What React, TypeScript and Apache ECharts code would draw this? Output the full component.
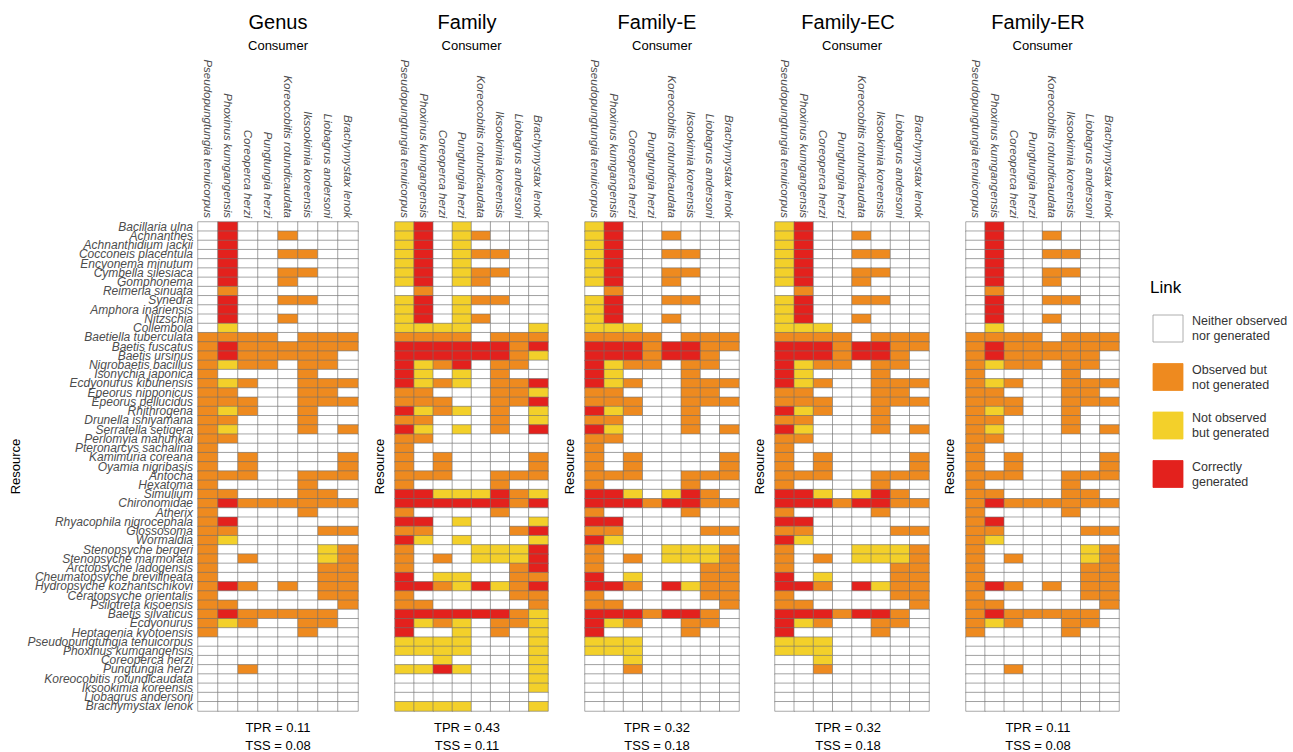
import React, { useEffect, useRef } from "react";
import * as echarts from "echarts";

const FONT = "'Liberation Sans', Arial, sans-serif";

const consumers = [
  "Pseudopungtungia tenuicorpus",
  "Phoxinus kumgangensis",
  "Coreoperca herzi",
  "Pungtungia herzi",
  "Koreocobitis rotundicaudata",
  "Iksookimia koreensis",
  "Liobagrus andersoni",
  "Brachymystax lenok",
];

const resources = [
  "Bacillaria ulna", "Achnanthes", "Achnanthidium jackii", "Cocconeis placentula",
  "Encyonema minutum", "Cymbella silesiaca", "Gomphonema", "Reimeria sinuata",
  "Synedra", "Amphora inariensis", "Nitzschia", "Collembola",
  "Baetiella tuberculata", "Baetis fuscatus", "Baetis ursinus", "Nigrobaetis bacillus",
  "Isonychia japonica", "Ecdyonurus kibunensis", "Epeorus nipponicus", "Epeorus pellucidus",
  "Rhithrogena", "Drunella ishiyamana", "Serratella setigera", "Perlomyia mahunkai",
  "Pteronarcys sachalina", "Kamimuria coreana", "Oyamia nigribasis", "Antocha",
  "Hexatoma", "Simulium", "Chironomidae", "Atherix",
  "Rhyacophila nigrocephala", "Glossosoma", "Wormaldia", "Stenopsyche bergeri",
  "Stenopsyche marmorata", "Arctopsyche ladogensis", "Cheumatopsyche brevilineata", "Hydropsyche kozhantschikovi",
  "Ceratopsyche orientalis", "Psilotreta kisoensis", "Baetis silvaticus", "Ecdyonurus",
  "Heptagenia kyotoensis", "Pseudopungtungia tenuicorpus", "Phoxinus kumgangensis", "Coreoperca herzi",
  "Pungtungia herzi", "Koreocobitis rotundicaudata", "Iksookimia koreensis", "Liobagrus andersoni",
  "Brachymystax lenok",
];

// Link codes per resource row, one letter per consumer:
// W = neither observed nor generated, O = observed but not generated,
// Y = not observed but generated, R = correctly generated
const genusLinks = [
  "WRWWWWWW", "WRWWOWWW", "WRWWWWWW", "WRWWOOWW", "WRWWWWWW", "WRWWOOWW", "WRWWOWWW", "WOWWWWWW",
  "WRWWOOWW", "WRWWWWWW", "WRWWOWWW", "WYWWWWWW", "OOOOWOOO", "OROOOOOO", "OROOOOOW", "OYOOWOOW",
  "OWWWWOWW", "OYOWWOOO", "OOWWWOOW", "OOOWWOOO", "OYOWWOWW", "OOWWWOWW", "OYWWWOWO", "OOWWWWWW",
  "OWWWWWWW", "OWOWWWWO", "OWOWWWWO", "OOOWWOOO", "OWWWWOWW", "OOWWWOOW", "OROOOOOO", "OWWWWOWW",
  "ORWWWWWW", "OOWWWWOO", "OYWWWWWW", "OWWWWWYO", "OWOWWWYO", "OWWWWWOO", "OWWWWWOO", "OROWOWOO",
  "OWWWWWOO", "OOWWWWWO", "OROOOOOW", "OYOWWOOW", "OWWWWOWW", "WWWWWWWW", "WWWWWWWW", "WWWWWWWW",
  "WWOWWWWW", "WWWWWWWW", "WWWWWWWW", "WWWWWWWW", "WWWWWWWW",
];

const familyLinks = [
  "YRWYWWWW", "YRWYOWWW", "YRWYWWWW", "YRWYOOWW", "YRWYWWWW", "YRWYOOWW", "YRWYOWWW", "WOWWWWWW",
  "YRWYOOWW", "YRWYWWWW", "YRWYOWWW", "YYYYWWWY", "OOOOWOOO", "RRRRRROR", "RRRRRROY", "RYORWOOW",
  "RYWYWOWW", "RYOYWOOR", "OOWWWOOY", "OOOWWOOR", "RYOYWOWY", "OOWWWOWY", "RYWYWOWR", "OOWWWWWW",
  "OWWWWWWW", "OWOWWWWO", "OWOWWWWO", "OOOWWOOO", "OWWWWOWW", "RRYYYROY", "RRRRRROR", "OWWWWOWW",
  "RRWYWWWY", "OOWWWWOR", "RYWYWWWY", "OWWWYYYR", "OWOWYYYR", "OWWWWWOR", "RWYYWWOO", "RROYRYOR",
  "OWWWWWOO", "OOWWWWWO", "RRRRRROY", "RYOYWOOY", "RWWYWOWY", "YYYYWWWY", "YYYYWWWY", "WWYWWWWY",
  "YYRYWWWY", "WWWWWWWY", "WWWWWWWY", "WWWWWWWW", "YYYYWWWY",
];

const familyELinks = [
  "YRWWWWWW", "YRWWOWWW", "YRWWWWWW", "YRWWOOWW", "YRWWWWWW", "YRWWOOWW", "YRWWOWWW", "WOWWWWWW",
  "YRWWOOWW", "YRWWWWWW", "YRWWOWWW", "YYYWWWWW", "OOOOWOOO", "RRRORROO", "RRRORROW", "RYOOWOOW",
  "RYWWWOWW", "RYOWWOOO", "OOWWWOOW", "OOOWWOOO", "RYOWWOWW", "OOWWWOWW", "RYWWWOWO", "OOWWWWWW",
  "OWWWWWWW", "OWOWWWWO", "OWOWWWWO", "OOOWWOOO", "OWWWWOWW", "RRYWYROW", "RRRORROO", "OWWWWOWW",
  "RRWWWWWW", "OOWWWWOO", "RYWWWWWW", "OWWWYYYO", "OWOWYYYO", "OWWWWWOO", "RWYWWWOO", "RROWRYOO",
  "OWWWWWOO", "OOWWWWWO", "RRRORROW", "RYOWWOOW", "RWWWWOWW", "YYYWWWWW", "YYYWWWWW", "WWYWWWWW",
  "WWOWWWWW", "WWWWWWWW", "WWWWWWWW", "WWWWWWWW", "WWWWWWWW",
];

const familyECLinks = [
  "YRWWWWWW", "YRWWOWWW", "YRWWWWWW", "YRWWOOWW", "YRWWWWWW", "YRWWOOWW", "YRWWOWWW", "WOWWWWWW",
  "YRWWOOWW", "YRWWWWWW", "YRWWOWWW", "YYYWWWWW", "OOOOWOOO", "RRRORROO", "RRRORROW", "RYOOWOOW",
  "RYWWWOWW", "RYOWWOOO", "OOWWWOOW", "OOOWWOOO", "RYOWWOWW", "OOWWWOWW", "RYWWWOWO", "OOWWWWWW",
  "OWWWWWWW", "OWOWWWWO", "OWOWWWWO", "OOOWWOOO", "OWWWWOWW", "RRYWYROW", "RRRORROO", "OWWWWOWW",
  "RRWWWWWW", "OOWWWWOO", "RYWWWWWW", "OWWWYYYO", "OWOWYYYO", "OWWWWWOO", "RWYWWWOO", "RROWRYOO",
  "OWWWWWOO", "OOWWWWWO", "RRRORROW", "RYOWWOOW", "RWWWWOWW", "YYYWWWWW", "YYYWWWWW", "WWYWWWWW",
  "WWOWWWWW", "WWWWWWWW", "WWWWWWWW", "WWWWWWWW", "WWWWWWWW",
];

const familyERLinks = [
  "WRWWWWWW", "WRWWOWWW", "WRWWWWWW", "WRWWOOWW", "WRWWWWWW", "WRWWOOWW", "WRWWOWWW", "WOWWWWWW",
  "WRWWOOWW", "WRWWWWWW", "WRWWOWWW", "WYWWWWWW", "OOOOWOOO", "OROOOOOO", "OROOOOOW", "OYOOWOOW",
  "OWWWWOWW", "OYOWWOOO", "OOWWWOOW", "OOOWWOOO", "OYOWWOWW", "OOWWWOWW", "OYWWWOWO", "OOWWWWWW",
  "OWWWWWWW", "OWOWWWWO", "OWOWWWWO", "OOOWWOOO", "OWWWWOWW", "OOWWWOOW", "OROOOOOO", "OWWWWOWW",
  "ORWWWWWW", "OOWWWWOO", "OYWWWWWW", "OWWWWWYO", "OWOWWWYO", "OWWWWWOO", "OWWWWWOO", "OROWOWOO",
  "OWWWWWOO", "OOWWWWWO", "OROOOOOW", "OYOWWOOW", "OWWWWOWW", "WWWWWWWW", "WWWWWWWW", "WWWWWWWW",
  "WWOWWWWW", "WWWWWWWW", "WWWWWWWW", "WWWWWWWW", "WWWWWWWW",
];

const panelNames = ["Genus", "Family", "Family-E", "Family-EC", "Family-ER"];
const panelLinks = [genusLinks, familyLinks, familyELinks, familyECLinks, familyERLinks];
const tprValues = ["0.11", "0.43", "0.32", "0.32", "0.11"];
const tssValues = ["0.08", "0.11", "0.18", "0.18", "0.08"];

const linkCodes = ["W", "O", "Y", "R"];
const linkLabels = [
  "Neither observed\nnor generated",
  "Observed but\nnot generated",
  "Not observed\nbut generated",
  "Correctly\ngenerated",
];
const linkColors = ["#ffffff", "#ee8a1f", "#f3d02a", "#e3211d"];

// Panel geometry (px)
const panelLeft = [198, 395, 585, 775, 966];
const panelWidth = [160, 153, 154, 154, 153];
const panelTitleX = [278, 467, 657, 848, 1038];
const yNameGap = [176, 9, 9, 9, 10];
const GRID_TOP = 222;
const GRID_HEIGHT = 489;

function buildOption(): echarts.EChartsOption {
  const grid: any[] = [];
  const xAxis: any[] = [];
  const yAxis: any[] = [];
  const series: any[] = [];
  const graphic: any[] = [];

  panelNames.forEach((name, p) => {
    grid.push({
      left: panelLeft[p],
      top: GRID_TOP,
      width: panelWidth[p],
      height: GRID_HEIGHT,
      containLabel: false,
    });
    xAxis.push({
      type: "category",
      gridIndex: p,
      data: consumers,
      position: "top",
      axisLine: { show: false },
      axisTick: { show: false },
      splitLine: { show: false },
      axisLabel: {
        rotate: 90,
        interval: 0,
        margin: 4,
        fontSize: 11.5,
        fontStyle: "italic",
        color: "#4d4d4d",
        fontFamily: FONT,
      },
      name: "Consumer",
      nameLocation: "middle",
      nameGap: 168,
      nameTextStyle: { fontSize: 13, color: "#000", fontFamily: FONT },
    });
    yAxis.push({
      type: "category",
      gridIndex: p,
      data: resources,
      inverse: true,
      axisLine: { show: false },
      axisTick: { show: false },
      splitLine: { show: false },
      axisLabel: {
        show: p === 0,
        interval: 0,
        margin: 5,
        fontSize: 12,
        fontStyle: "italic",
        color: "#4d4d4d",
        fontFamily: FONT,
      },
      name: "Resource",
      nameLocation: "middle",
      nameGap: yNameGap[p],
      nameTextStyle: { fontSize: 13, color: "#000", fontFamily: FONT },
    });

    const data: number[][] = [];
    panelLinks[p].forEach((row, r) => {
      for (let c = 0; c < consumers.length; c++) {
        data.push([c, r, linkCodes.indexOf(row[c])]);
      }
    });
    series.push({
      type: "heatmap",
      name,
      xAxisIndex: p,
      yAxisIndex: p,
      data,
      itemStyle: { borderColor: "#707070", borderWidth: 0.6 },
      emphasis: { disabled: true },
      label: { show: false },
    });

    graphic.push({
      type: "text",
      x: panelTitleX[p],
      y: 22,
      style: {
        text: name,
        align: "center",
        verticalAlign: "middle",
        fontSize: 20,
        fontFamily: FONT,
        fill: "#000",
      },
    });
    graphic.push({
      type: "text",
      x: panelTitleX[p],
      y: 727,
      style: {
        text: `TPR = ${tprValues[p]}`,
        align: "center",
        verticalAlign: "middle",
        fontSize: 13,
        fontFamily: FONT,
        fill: "#000",
      },
    });
    graphic.push({
      type: "text",
      x: panelTitleX[p],
      y: 745,
      style: {
        text: `TSS = ${tssValues[p]}`,
        align: "center",
        verticalAlign: "middle",
        fontSize: 13,
        fontFamily: FONT,
        fill: "#000",
      },
    });
  });

  // Legend for link types
  graphic.push({
    type: "text",
    x: 1150,
    y: 287,
    style: {
      text: "Link",
      align: "left",
      verticalAlign: "middle",
      fontSize: 17,
      fontFamily: FONT,
      fill: "#000",
    },
  });
  linkLabels.forEach((label, i) => {
    const top = 315 + i * 48.5;
    graphic.push({
      type: "rect",
      shape: { x: 1153, y: top, width: 30, height: 27 },
      style: {
        fill: linkColors[i],
        stroke: i === 0 ? "#9a9a9a" : linkColors[i],
        lineWidth: 0.8,
      },
    });
    graphic.push({
      type: "text",
      x: 1192,
      y: top + 13.5,
      style: {
        text: label,
        align: "left",
        verticalAlign: "middle",
        fontSize: 12.5,
        lineHeight: 15,
        fontFamily: FONT,
        fill: "#333",
      },
    });
  });

  return {
    animation: false,
    backgroundColor: "#ffffff",
    textStyle: { fontFamily: FONT },
    grid,
    xAxis,
    yAxis,
    visualMap: {
      type: "piecewise",
      show: false,
      dimension: 2,
      seriesIndex: [0, 1, 2, 3, 4],
      pieces: linkColors.map((color, i) => ({ value: i, color })),
    },
    series,
    graphic,
  };
}

export default function App() {
  const ref = useRef<HTMLDivElement>(null);

  useEffect(() => {
    document.body.style.margin = "0";
    if (!ref.current) return;
    const chart = echarts.init(ref.current, undefined, { renderer: "svg" });
    chart.setOption(buildOption());
    return () => {
      chart.dispose();
    };
  }, []);

  return <div ref={ref} style={{ width: 1293, height: 752 }} />;
}
